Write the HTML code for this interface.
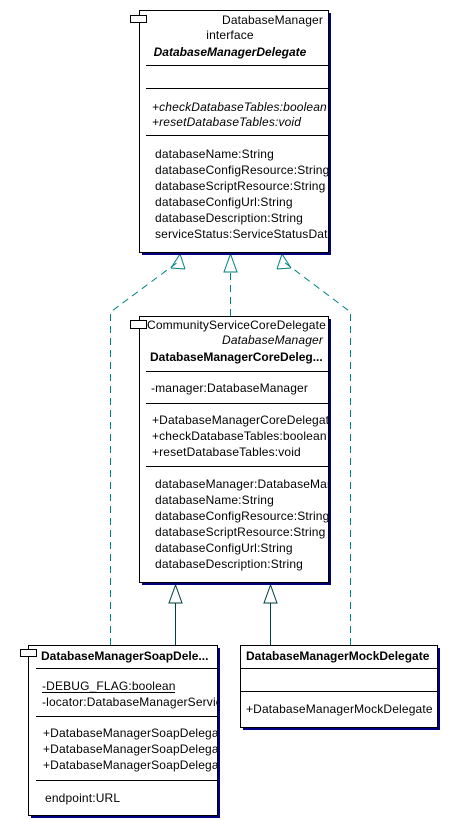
<!DOCTYPE html>
<html><head><style>html,body{margin:0;padding:0;background:#fff}svg{display:block}text{font-family:"Liberation Sans",Arial,sans-serif;font-size:12px;letter-spacing:0.15px;fill:#000}text.b{letter-spacing:0}</style></head>
<body>
<svg width="451" height="820" viewBox="0 0 451 820" xmlns="http://www.w3.org/2000/svg">
<defs>
<clipPath id="c1"><rect x="139" y="10" width="189" height="242"/></clipPath>
<clipPath id="c2"><rect x="139" y="316" width="189" height="266"/></clipPath>
<clipPath id="c3"><rect x="28" y="645" width="189" height="170"/></clipPath>
</defs>
<g stroke="#008080" fill="none" stroke-width="1">
<path d="M110.5 645 V312 L178 262" stroke-dasharray="7,5"/>
<path d="M230.5 316 V272" stroke-dasharray="7,5"/>
<path d="M350.5 645 V312 L284 262" stroke-dasharray="7,5"/>
<path d="M180 254 L171 268 M180 254 L185 269 M171 268 L185 269" />
<path d="M230.5 254 L224 272 H237 Z"/>
<path d="M282 254 L277 269 M282 254 L291 268 M277 269 L291 268"/>
</g>
<g stroke="#004040" fill="none">
<path d="M175.5 645 V603"/><path d="M175.5 585 L169 603 H182 Z"/>
<path d="M270.5 645 V603"/><path d="M270.5 585 L264 603 H277 Z"/>
</g>
<rect x="142" y="13" width="189" height="242" fill="#000080"/>
<rect x="139.5" y="10.5" width="189" height="242" fill="#fff" stroke="#000"/>
<g clip-path="url(#c1)">
<text x="323" y="24" text-anchor="end">DatabaseManager</text>
<text x="230" y="39" text-anchor="middle">interface</text>
<text class="b" x="230" y="56" text-anchor="middle" font-weight="bold" font-style="italic">DatabaseManagerDelegate</text>
<text x="152" y="111" font-style="italic">+checkDatabaseTables:boolean</text>
<text x="152" y="126" font-style="italic">+resetDatabaseTables:void</text>
<text x="155" y="158">databaseName:String</text>
<text x="155" y="174">databaseConfigResource:String</text>
<text x="155" y="190">databaseScriptResource:String</text>
<text x="155" y="206">databaseConfigUrl:String</text>
<text x="155" y="222">databaseDescription:String</text>
<text x="155" y="238">serviceStatus:ServiceStatusData</text>
</g>
<g stroke="#000"><path d="M146 65.5H328M146 88.5H328M146 135.5H328"/></g>
<rect x="130.5" y="15.5" width="16" height="7" fill="#fff" stroke="#000"/>
<rect x="142" y="316" width="189" height="266" fill="none"/>
<rect x="142" y="319" width="189" height="266" fill="#000080"/>
<rect x="139.5" y="316.5" width="189" height="266" fill="#fff" stroke="#000"/>
<g clip-path="url(#c2)">
<text x="147" y="329">CommunityServiceCoreDelegate</text>
<text x="323" y="344" text-anchor="end" font-style="italic">DatabaseManager</text>
<text class="b" x="150" y="361" font-weight="bold">DatabaseManagerCoreDeleg...</text>
<text x="151" y="392">-manager:DatabaseManager</text>
<text x="152" y="424">+DatabaseManagerCoreDelegate</text>
<text x="152" y="440">+checkDatabaseTables:boolean</text>
<text x="152" y="456">+resetDatabaseTables:void</text>
<text x="155" y="488">databaseManager:DatabaseManager</text>
<text x="155" y="504">databaseName:String</text>
<text x="155" y="520">databaseConfigResource:String</text>
<text x="155" y="536">databaseScriptResource:String</text>
<text x="155" y="552">databaseConfigUrl:String</text>
<text x="155" y="568">databaseDescription:String</text>
</g>
<g stroke="#000"><path d="M146 371.5H328M146 403.5H328M146 466.5H328"/></g>
<rect x="130.5" y="320.5" width="16" height="8" fill="#fff" stroke="#000"/>
<rect x="31" y="648" width="189" height="170" fill="#000080"/>
<rect x="28.5" y="645.5" width="189" height="170" fill="#fff" stroke="#000"/>
<g clip-path="url(#c3)">
<text class="b" x="41" y="660" font-weight="bold">DatabaseManagerSoapDele...</text>
<text x="42" y="690">-DEBUG_FLAG:boolean</text>
<text x="42" y="706">-locator:DatabaseManagerServiceLocator</text>
<text x="43" y="737">+DatabaseManagerSoapDelegate</text>
<text x="43" y="753">+DatabaseManagerSoapDelegate</text>
<text x="43" y="769">+DatabaseManagerSoapDelegate</text>
<text x="45" y="802">endpoint:URL</text>
</g>
<g stroke="#000"><path d="M36 668.5H217M36 716.5H217M36 780.5H217M42 692.5H175"/></g>
<rect x="20.5" y="649.5" width="16" height="7" fill="#fff" stroke="#000"/>
<rect x="243" y="648" width="197" height="82" fill="#000080"/>
<rect x="240.5" y="645.5" width="197" height="82" fill="#fff" stroke="#000"/>
<text class="b" x="246" y="660" font-weight="bold">DatabaseManagerMockDelegate</text>
<text x="246" y="713">+DatabaseManagerMockDelegate</text>
<g stroke="#000"><path d="M240 668.5H437M240 691.5H437"/></g>
</svg>
</body></html>
